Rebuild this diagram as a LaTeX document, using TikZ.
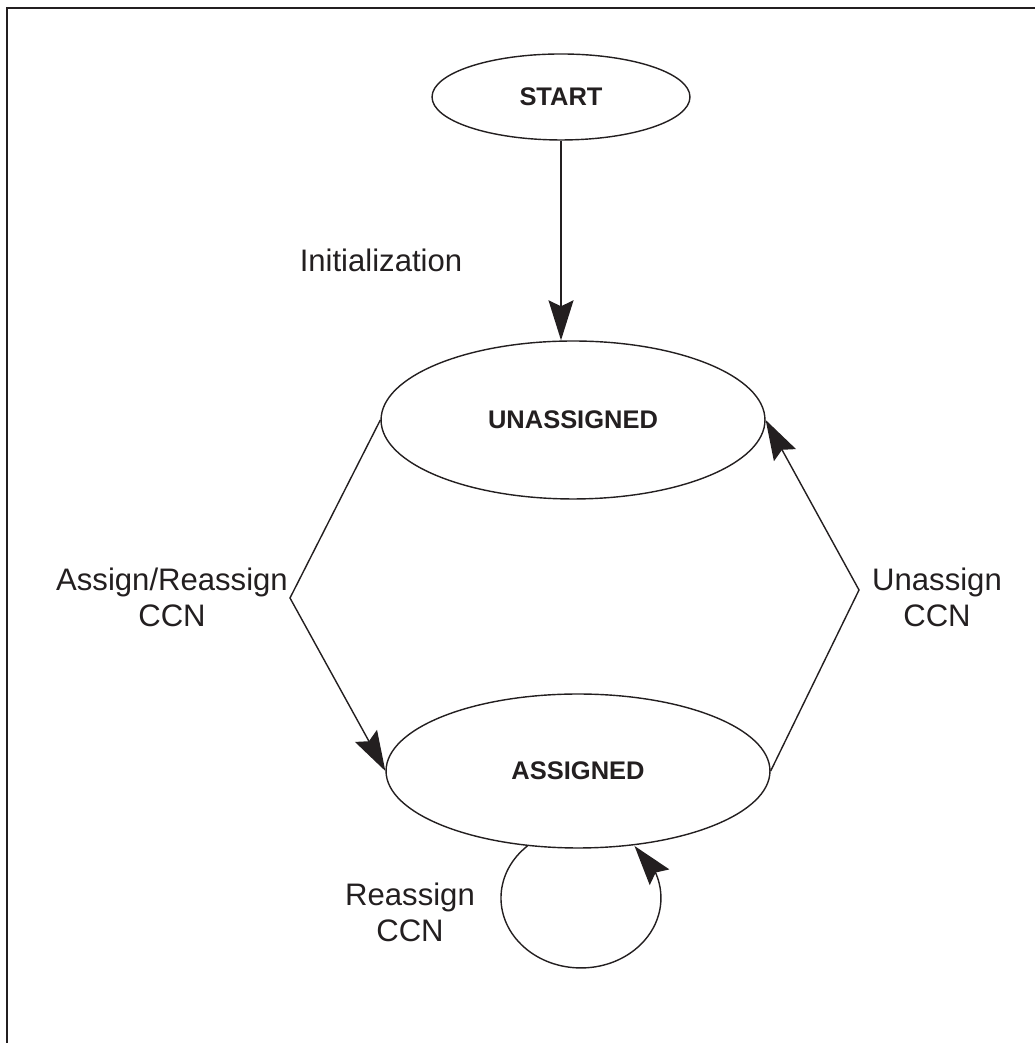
\documentclass[tikz,border=0pt]{standalone}
\usepackage{fontspec}
\setmainfont{Liberation Sans}
\usetikzlibrary{shapes.geometric,arrows.meta,bending}
\definecolor{ink}{HTML}{231F20}
\begin{document}
\begin{tikzpicture}[x=0.02cm,y=0.02cm,
  state/.style={ellipse,draw=ink,line width=0.8pt,inner sep=0pt,
    font=\fontsize{14.5}{16}\selectfont\bfseries,text=ink},
  edge/.style={draw=ink,line width=0.8pt,
    -{Stealth[length=0.8cm,width=0.5cm,inset=0.12cm,flex]}},
  lbl/.style={font=\fontsize{17.7}{20.5}\selectfont,text=ink,
    align=center,inner sep=0pt}]
\useasboundingbox (0,0) rectangle (1035,1043);
% open frame: left and top rules only
\draw[ink,line width=1.1pt] (7,0) -- (7,1035) -- (1035,1035);

% states
\node[state,minimum width=5.16cm,minimum height=1.72cm] (start) at (561,946) {START};
\node[state,minimum width=7.68cm,minimum height=3.16cm] (unassigned) at (573,623) {UNASSIGNED};
\node[state,minimum width=7.68cm,minimum height=3.08cm] (assigned) at (578,272) {ASSIGNED};

% bend points of the two side transitions
\coordinate (lv) at (290,445);
\coordinate (rv) at (859,453);

% transitions
\draw[edge] (start.south) -- (start.south |- unassigned.north);
\draw[edge] (unassigned.west) -- (lv) -- (assigned.west);
\draw[edge] (assigned.east) -- (rv) -- (unassigned.east);
\draw[edge] (assigned.236) arc[start angle=132,end angle=408,x radius=1.6cm,y radius=1.4cm];

% transition labels
\node[lbl] (initlbl) at (381,783) {Initialization};
\node[lbl] (assignlbl) at (172,446) {Assign/Reassign\\CCN};
\node[lbl] (unassignlbl) at (937,446) {Unassign\\CCN};
\node[lbl] (reassignlbl) at (410,131) {Reassign\\CCN};
\end{tikzpicture}
\end{document}
